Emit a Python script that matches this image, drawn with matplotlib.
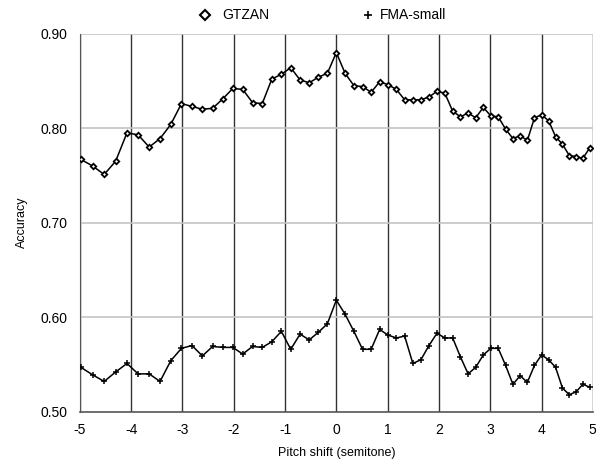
import matplotlib
matplotlib.use("Agg")
import matplotlib.pyplot as plt
from matplotlib.lines import Line2D
import numpy as np

plt.rcParams["font.family"] = ["Liberation Sans", "DejaVu Sans"]

# time-stretch rates applied, shown on the axis as semitones
rates = [0.75, 0.76, 0.77, 0.78, 0.79, 0.80, 0.81, 0.82, 0.83, 0.84,
         0.85, 0.86, 0.87, 0.88, 0.89, 0.90, 0.91, 0.92, 0.93, 0.94,
         0.95, 0.96, 0.97, 0.98, 0.99, 1.00, 1.01, 1.02, 1.03, 1.04,
         1.05, 1.06, 1.07, 1.08, 1.09, 1.10, 1.11, 1.12, 1.13, 1.14,
         1.15, 1.16, 1.17, 1.18, 1.19, 1.20, 1.21, 1.22, 1.23, 1.24,
         1.25, 1.26, 1.27, 1.28, 1.29, 1.30, 1.31, 1.32, 1.33]

gtzan = [0.767, 0.760, 0.751, 0.765, 0.795, 0.793, 0.780, 0.789, 0.804, 0.826,
         0.823, 0.820, 0.821, 0.831, 0.842, 0.841, 0.827, 0.826, 0.852, 0.857,
         0.864, 0.851, 0.848, 0.854, 0.858, 0.880, 0.858, 0.845, 0.844, 0.838,
         0.849, 0.846, 0.841, 0.830, 0.830, 0.830, 0.833, 0.839, 0.837, 0.818,
         0.812, 0.816, 0.811, 0.822, 0.813, 0.812, 0.799, 0.789, 0.792, 0.787,
         0.811, 0.814, 0.808, 0.791, 0.783, 0.771, 0.770, 0.768, 0.779]

fma = [0.547, 0.539, 0.532, 0.542, 0.551, 0.540, 0.540, 0.532, 0.554, 0.567,
       0.570, 0.559, 0.569, 0.568, 0.568, 0.561, 0.569, 0.568, 0.574, 0.585,
       0.566, 0.582, 0.576, 0.584, 0.593, 0.618, 0.603, 0.585, 0.566, 0.566,
       0.587, 0.581, 0.578, 0.580, 0.551, 0.555, 0.570, 0.583, 0.578, 0.578,
       0.558, 0.540, 0.547, 0.560, 0.567, 0.567, 0.549, 0.529, 0.538, 0.531,
       0.549, 0.560, 0.555, 0.547, 0.525, 0.518, 0.521, 0.529, 0.526]

x_ticks = [-5, -4, -3, -2, -1, 0, 1, 2, 3, 4, 5]
y_ticks = [0.50, 0.60, 0.70, 0.80, 0.90]

shift = 12 * np.log2(np.array(rates))

fig = plt.figure(figsize=(6, 4.61), dpi=100)
ax = fig.add_axes([0.133, 0.107, 0.855, 0.820])

ax.plot(shift, gtzan, color="black", lw=1.1, marker="D", ms=2.8,
        mfc="white", mec="black", mew=1.3, zorder=3)
ax.plot(shift, fma, color="black", lw=1.1, marker="+", ms=4.5,
        mec="black", mew=1.1, zorder=3)

ax.set_xlim(-5, 5)
ax.set_ylim(0.5, 0.9)
ax.set_xticks(x_ticks)
ax.set_xticklabels([str(t) for t in x_ticks])
ax.set_yticks(y_ticks)
ax.set_yticklabels(["%.2f" % v for v in y_ticks])
ax.tick_params(length=0, labelsize=10, pad=8)
ax.tick_params(axis="y", pad=9)

for xv in x_ticks:
    ax.axvline(xv, color="#333333", lw=1.0, zorder=1)
for yv in y_ticks[1:]:
    ax.axhline(yv, color="#c4c4c4", lw=1.2, zorder=1)

for s in ["top", "right"]:
    ax.spines[s].set_visible(False)
ax.spines["left"].set_color("#555555")
ax.spines["bottom"].set_color("#555555")
ax.spines["bottom"].set_linewidth(1.2)

ax.set_xlabel("Pitch shift (semitone)", fontsize=9, labelpad=7)
ax.set_ylabel("Accuracy", fontsize=9, labelpad=9)

# legend drawn by hand above the plot
leg_y = 1 - 15 / 461
fig.add_artist(Line2D([205 / 600], [leg_y], transform=fig.transFigure, ls="none",
                      marker="D", ms=5.2, mfc="white", mec="black", mew=1.5))
fig.text(222 / 600, leg_y, "GTZAN", fontsize=10, va="center", ha="left")
fig.add_artist(Line2D([368 / 600], [leg_y], transform=fig.transFigure, ls="none",
                      marker="+", ms=6, mec="black", mew=1.2))
fig.text(380 / 600, leg_y, "FMA-small", fontsize=10, va="center", ha="left")

fig.savefig("out.png", dpi=100)
